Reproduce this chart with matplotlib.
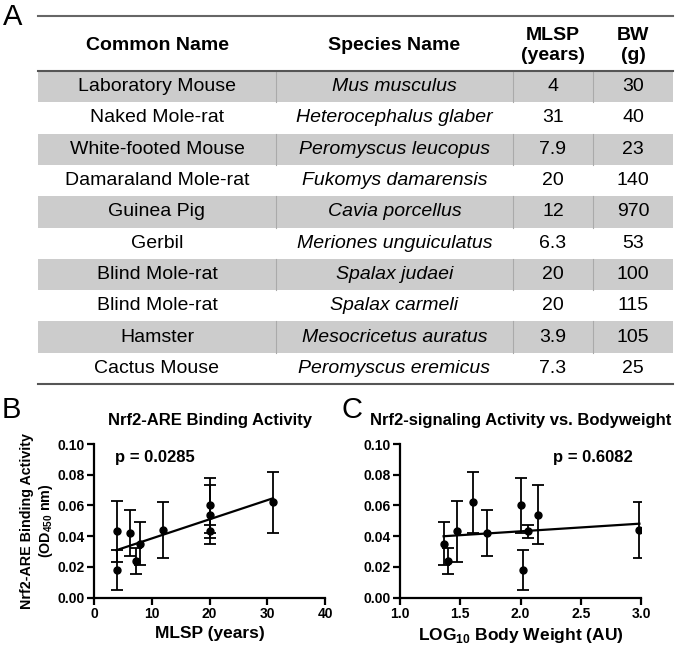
import matplotlib
matplotlib.use("Agg")
import matplotlib.pyplot as plt
import numpy as np
from matplotlib.patches import Rectangle

plt.rcParams['font.family'] = ['Liberation Sans', 'DejaVu Sans']
plt.rcParams['mathtext.fontset'] = 'custom'
plt.rcParams['mathtext.rm'] = 'Liberation Sans'
plt.rcParams['mathtext.bf'] = 'Liberation Sans:bold'

# table data
common_names = ['Laboratory Mouse', 'Naked Mole-rat', 'White-footed Mouse', 'Damaraland Mole-rat',
                'Guinea Pig', 'Gerbil', 'Blind Mole-rat', 'Blind Mole-rat', 'Hamster', 'Cactus Mouse']
species_names = ['Mus musculus', 'Heterocephalus glaber', 'Peromyscus leucopus', 'Fukomys damarensis',
                 'Cavia porcellus', 'Meriones unguiculatus', 'Spalax judaei', 'Spalax carmeli',
                 'Mesocricetus auratus', 'Peromyscus eremicus']
mlsp_labels = ['4', '31', '7.9', '20', '12', '6.3', '20', '20', '3.9', '7.3']
bw_labels = ['30', '40', '23', '140', '970', '53', '100', '115', '105', '25']

# Nrf2 binding activity per species (mean, error)
mlsp = [4, 31, 7.9, 20, 12, 6.3, 20, 20, 3.9, 7.3]
bw = [30, 40, 23, 140, 970, 53, 100, 115, 105, 25]
nrf2_mean = [0.043, 0.062, 0.035, 0.054, 0.044, 0.042, 0.060, 0.043, 0.018, 0.024]
nrf2_err = [0.020, 0.020, 0.014, 0.019, 0.018, 0.015, 0.018, 0.004, 0.013, 0.0085]

W, H = 679, 647
fig = plt.figure(figsize=(W / 100, H / 100), dpi=100)

# ---- panel A: table drawn in pixel coordinates
ta = fig.add_axes([0, 0, 1, 1])
ta.set_xlim(0, W)
ta.set_ylim(H, 0)
ta.axis('off')

x0, x1 = 38, 673
seps = [38, 276, 513, 593, 673]
centers = [(seps[i] + seps[i + 1]) / 2 for i in range(4)]
row_top = 71
row_h = (384 - 71) / 10
shade = '#cccccc'
fs = 14

for i in range(10):
    y = row_top + i * row_h
    if i % 2 == 0:
        ta.add_patch(Rectangle((x0, y), x1 - x0, row_h, facecolor=shade, edgecolor='none'))
        for s in seps[1:-1]:
            ta.plot([s, s], [y, y + row_h], color='#aaaaaa', lw=0.8)
    yc = y + row_h / 2
    ta.text(centers[0], yc, common_names[i], ha='center', va='center', fontsize=fs)
    ta.text(centers[1], yc, species_names[i], ha='center', va='center', fontsize=fs, style='italic')
    ta.text(centers[2], yc, mlsp_labels[i], ha='center', va='center', fontsize=fs)
    ta.text(centers[3], yc, bw_labels[i], ha='center', va='center', fontsize=fs)

ta.plot([x0, x1], [16, 16], color='#666666', lw=1.5)
ta.plot([x0, x1], [71, 71], color='#555555', lw=1.5)
ta.plot([x0, x1], [384, 384], color='#555555', lw=1.5)

ta.text(centers[0], 45, 'Common Name', ha='center', va='center', fontsize=fs, weight='bold')
ta.text(centers[1], 45, 'Species Name', ha='center', va='center', fontsize=fs, weight='bold')
ta.text(centers[2], 35, 'MLSP', ha='center', va='center', fontsize=fs, weight='bold')
ta.text(centers[2], 56, '(years)', ha='center', va='center', fontsize=fs, weight='bold')
ta.text(centers[3], 35, 'BW', ha='center', va='center', fontsize=fs, weight='bold')
ta.text(centers[3], 56, '(g)', ha='center', va='center', fontsize=fs, weight='bold')

ta.text(13, 17, 'A', ha='center', va='center', fontsize=21)
ta.text(11, 410, 'B', ha='center', va='center', fontsize=21)
ta.text(352, 410, 'C', ha='center', va='center', fontsize=21)


def style_axes(ax):
    for side in ['top', 'right']:
        ax.spines[side].set_visible(False)
    for side in ['left', 'bottom']:
        ax.spines[side].set_linewidth(1.6)
    ax.tick_params(width=1.6, length=5, labelsize=10, pad=1.5)
    for lab in ax.get_xticklabels() + ax.get_yticklabels():
        lab.set_fontweight('bold')


def scatter_fit(ax, x, y, e):
    x = np.asarray(x, dtype=float)
    ax.errorbar(x, y, yerr=e, fmt='o', color='black', ms=5, capsize=4,
                elinewidth=1.3, capthick=1.3, zorder=3)
    k, b = np.polyfit(x, y, 1)
    xs = np.array([x.min(), x.max()])
    ax.plot(xs, k * xs + b, color='black', lw=1.6)


def pax(l, t, r, b):
    return fig.add_axes([l / W, 1 - b / H, (r - l) / W, (b - t) / H])


# ---- panel B
axb = pax(94, 444, 325, 597.5)
scatter_fit(axb, mlsp, nrf2_mean, nrf2_err)
axb.set_xlim(0, 40)
axb.set_ylim(0, 0.10)
axb.set_xticks([0, 10, 20, 30, 40])
axb.set_yticks(np.arange(0, 0.101, 0.02))
axb.yaxis.set_major_formatter(matplotlib.ticker.FormatStrFormatter('%.2f'))
style_axes(axb)
axb.set_title('Nrf2-ARE Binding Activity', fontsize=12, weight='bold', pad=14)
axb.set_xlabel('MLSP (years)', fontsize=12.5, weight='bold', labelpad=4)
axb.set_ylabel('Nrf2-ARE Binding Activity\n(OD$_{\\mathbf{450}}$ nm)', fontsize=10.3, weight='bold',
               labelpad=2)
axb.text(3.7, 0.091, 'p = 0.0285', fontsize=12, weight='bold', va='center')

# ---- panel C
axc = pax(400, 444, 641, 597.5)
scatter_fit(axc, np.log10(bw), nrf2_mean, nrf2_err)
axc.set_xlim(1.0, 3.0)
axc.set_ylim(0, 0.10)
axc.set_xticks([1.0, 1.5, 2.0, 2.5, 3.0])
axc.set_yticks(np.arange(0, 0.101, 0.02))
axc.yaxis.set_major_formatter(matplotlib.ticker.FormatStrFormatter('%.2f'))
axc.xaxis.set_major_formatter(matplotlib.ticker.FormatStrFormatter('%.1f'))
style_axes(axc)
axc.set_title('Nrf2-signaling Activity vs. Bodyweight', fontsize=12, weight='bold', pad=14, x=0.5)
axc.set_xlabel('LOG$_{\\mathbf{10}}$ Body Weight (AU)', fontsize=12.5, weight='bold', labelpad=4)
axc.text(2.27, 0.091, 'p = 0.6082', fontsize=12, weight='bold', va='center')

fig.savefig('out.png', dpi=100)
